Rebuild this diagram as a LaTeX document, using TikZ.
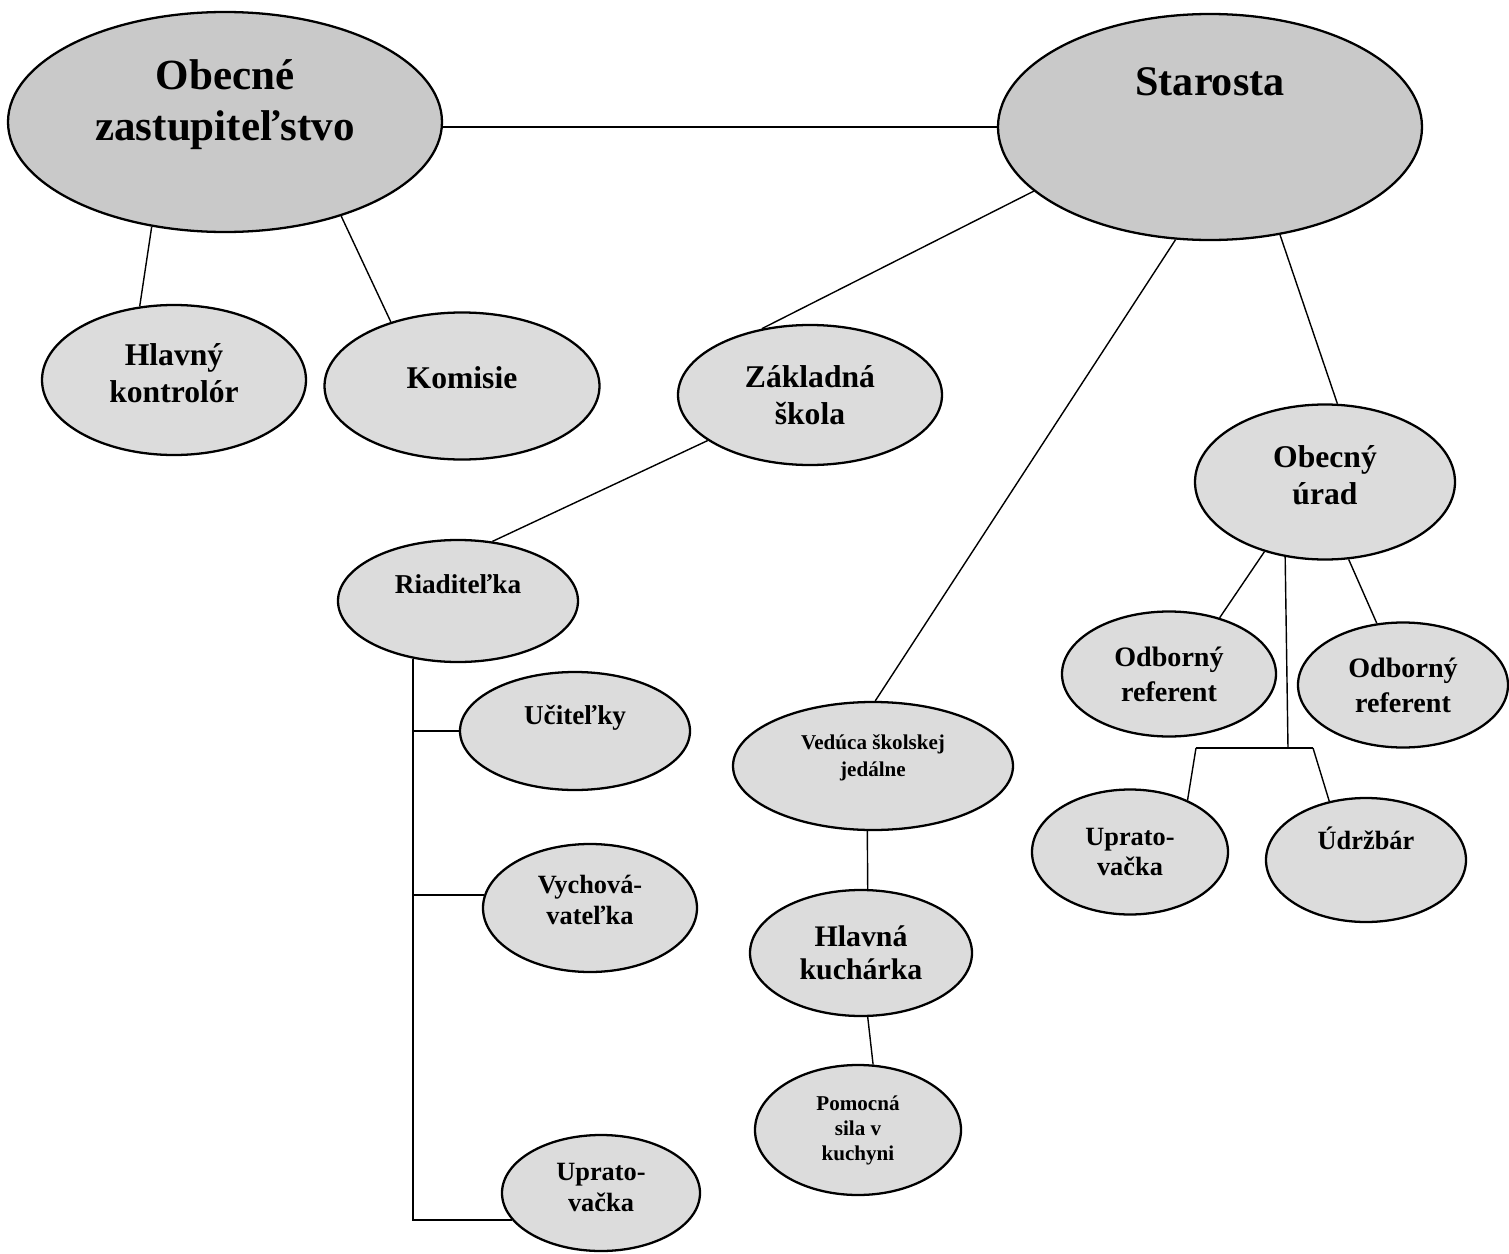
\documentclass[tikz,border=0pt]{standalone}
\usepackage{fontspec}
\setmainfont{Liberation Serif}
\usetikzlibrary{shapes.geometric}
\definecolor{topgray}{HTML}{C9C9C9}
\definecolor{unitgray}{HTML}{DCDCDC}
\newcommand{\fsz}[2]{\fontsize{#1}{#2}\selectfont}

\begin{document}
\begin{tikzpicture}[
		x=0.02cm, y=-0.02cm,
		unit/.style={ellipse, draw, line width=1.3pt, fill=unitgray,
			inner sep=0pt, align=center, font=\bfseries},
		sz/.style 2 args={minimum width=#1*0.02cm, minimum height=#2*0.02cm},
		link/.style={line width=0.8pt}
	]
	\useasboundingbox (0,0) rectangle (1509,1254);

	\node[unit, fill=topgray, sz={434}{220}, font=\bfseries\fsz{24.5}{29},
		text depth=25pt] (oz) at (225,122)
			{Obecné\\zastupiteľstvo};
	\node[unit, fill=topgray, sz={424}{226}, font=\bfseries\fsz{24}{28},
		text depth=52pt] (st) at (1210,127)
			{Starosta};

	\node[unit, sz={264}{150}, font=\bfseries\fsz{18}{21}, text depth=8pt]
		(hk) at (174,380) {Hlavný\\kontrolór};
	\node[unit, sz={275}{147}, font=\bfseries\fsz{18}{21}, text depth=10pt]
		(km) at (462,386) {Komisie};
	\node[unit, sz={264}{140}, font=\bfseries\fsz{18}{21}]
		(zs) at (810,395) {Základná\\škola};
	\node[unit, sz={260}{155}, font=\bfseries\fsz{18}{21}, text depth=8pt]
		(ou) at (1325,482) {Obecný\\úrad};

	\node[unit, sz={240}{122}, font=\bfseries\fsz{15.5}{18}, text depth=19pt]
		(rd) at (458,601) {Riaditeľka};
	\node[unit, sz={230}{118}, font=\bfseries\fsz{15.5}{18}, text depth=18pt]
		(uc) at (575,731) {Učiteľky};
	\node[unit, sz={214}{128}, font=\bfseries\fsz{15}{17.5}, text depth=9pt]
		(vy) at (590,908) {Vychová-\\vateľka};
	\node[unit, sz={198}{116}, font=\bfseries\fsz{15}{17.5}, text depth=6pt]
		(upl) at (601,1193) {Uprato-\\vačka};

	\node[unit, sz={280}{128}, font=\bfseries\fsz{12}{15.5}, text depth=12pt]
		(vj) at (873,766) {Vedúca školskej\\jedálne};
	\node[unit, sz={222}{126}, font=\bfseries\fsz{17}{18.5}]
		(hkc) at (861,953) {Hlavná\\kuchárka};
	\node[unit, sz={206}{130}, font=\bfseries\fsz{12}{14.2}]
		(ps) at (858,1130) {Pomocná\\sila v\\kuchyni};

	\node[unit, sz={214}{125}, font=\bfseries\fsz{16}{20}]
		(or1) at (1169,674) {Odborný\\referent};
	\node[unit, sz={210}{125}, font=\bfseries\fsz{16}{20}]
		(or2) at (1403,685) {Odborný\\referent};
	\node[unit, sz={196}{125}, font=\bfseries\fsz{15}{17}]
		(upr) at (1130,852) {Uprato-\\vačka};
	\node[unit, sz={200}{124}, font=\bfseries\fsz{15}{17}, text depth=25pt]
		(ud) at (1366,860) {Údržbár};

	\draw[link] (st.west) -- (st.west -| oz.east);
	\draw[link] (oz.-125) -- (hk.115);
	\draw[link] (oz.-39) -- (km.138);
	\draw[link] (st.-160) -- (zs.126);
	\draw[link] (st.-107) -- (vj.88);
	\draw[link] (st.-57) -- (ou.81);

	\draw[link] (zs.-156) -- (rd.60);
	\draw[link] (rd.-128) |- (upl.-163);
	\draw[link] (uc.west) -- (uc.west -| rd.-128);
	\draw[link] (vy.173) -- (vy.173 -| rd.-128);

	\draw[link] (vj.-95) -- (hkc.84);
	\draw[link] (hkc.-84) -- (ps.77);

	\coordinate (oubus) at (1288,748);
	\coordinate (barL) at (1196,748);
	\coordinate (barR) at (1313,748);
	\draw[link] (ou.-131) -- (or1.48);
	\draw[link] (ou.-73) -- (or2.113);
	\draw[link] (ou.-118) -- (oubus);
	\draw[link] (barL) -- (barR);
	\draw[link] (barL) -- (upr.42);
	\draw[link] (barR) -- (ud.122);
\end{tikzpicture}
\end{document}
